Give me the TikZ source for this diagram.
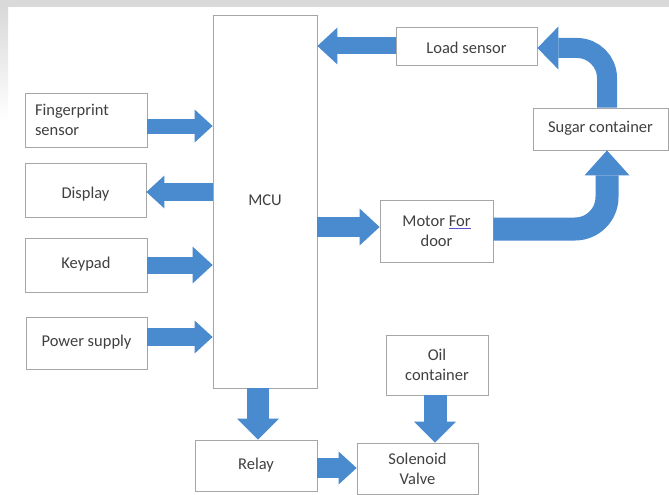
\documentclass[tikz,border=0pt]{standalone}
\usepackage{fontspec}
\setmainfont{Carlito}
\usetikzlibrary{arrows.meta}
\definecolor{arrowblue}{HTML}{4A8ACF}
\definecolor{boxline}{HTML}{A6A6A6}
\definecolor{txt}{HTML}{404040}
\definecolor{bandgray}{HTML}{D9D9D9}
\definecolor{ulink}{HTML}{5A4FCF}
\begin{document}
\begin{tikzpicture}[x=1pt,y=-1pt,
  boxbase/.style={draw=boxline, line width=0.8pt, fill=white, text=txt,
    font=\fontsize{16.5}{20}\selectfont, inner sep=0pt, align=center},
  box/.style={boxbase, text height=11pt, text depth=4pt},
  box2/.style={boxbase},
  barrow/.style={draw=arrowblue, line width=#1},
  tipA/.style={-{Triangle[length=18pt,width=33pt,line width=0pt]}},
  tipB/.style={-{Triangle[length=20pt,width=37pt,line width=0pt]}},
  tipC/.style={-{Triangle[length=21pt,width=42pt,line width=0pt]}}
]
\useasboundingbox (0,0) rectangle (669,495);
\fill[white] (0,0) rectangle (669,495);
\fill[bandgray] (0,0) rectangle (669,7);
\shade[top color=bandgray, bottom color=white] (0,7) rectangle (8,120);

% boxes
\node[box, minimum width=104pt, minimum height=373pt] (mcu) at (265,201.5) {MCU};
\node[box2, minimum width=122pt, minimum height=54pt, align=left, text width=102pt] (fp) at (86,120) {Fingerprint\\sensor};
\node[box, minimum width=121pt, minimum height=54pt] (disp) at (85.5,190) {\raisebox{-5pt}{Display}};
\node[box, minimum width=122pt, minimum height=54pt] (key) at (86,265) {Keypad};
\node[box, minimum width=121pt, minimum height=52pt] (pow) at (86.5,343) {Power supply};
\node[box, minimum width=122pt, minimum height=51pt] (relay) at (256,465.5) {Relay};
\node[box2, minimum width=121pt, minimum height=51pt] (sol) at (417.5,468.5) {Solenoid\\Valve};
\node[box2, minimum width=102pt, minimum height=60pt] (oil) at (437,365) {Oil\\container};
\node[box, minimum width=141pt, minimum height=38pt] (load) at (466.5,46) {\raisebox{-4pt}{Load sensor}};
\node[box, minimum width=135pt, minimum height=42pt] (sugar) at (600.5,129) {Sugar container};
\node[box2, minimum width=113pt, minimum height=62pt] (motor) at (436.5,231) {Motor {\color{ulink}\underline{\color{txt}For}}\\door};

% straight arrows
\draw[barrow=15pt, tipA] ([yshift=-6pt]fp.east) -- ([yshift=-6pt]fp.east -| mcu.west);
\draw[barrow=18pt, tipA] ([yshift=-2pt]disp.east -| mcu.west) -- ([yshift=-2pt]disp.east);
\draw[barrow=17pt, tipB] (key.east) -- (key.east -| mcu.west);
\draw[barrow=18pt, tipA] ([yshift=6pt]pow.east) -- ([yshift=6pt]pow.east -| mcu.west);
\draw[barrow=17pt, tipB] (load.west) -- (load.west -| mcu.east);
\draw[barrow=20pt, tipB] ([yshift=4pt]motor.west -| mcu.east) -- ([yshift=4pt]motor.west);
\draw[barrow=22pt, tipC] ([xshift=2pt]relay.north |- mcu.south) -- ([xshift=2pt]relay.north);
\draw[barrow=20pt, tipA] ([yshift=-2.5pt]relay.east) -- ([yshift=-2.5pt]relay.east -| sol.west);
\draw[barrow=23pt, tipC] ([xshift=-2pt]oil.south) -- ([xshift=-2pt]oil.south |- sol.north);

% curved arrows
\draw[barrow=23pt, rounded corners=32pt, -{Triangle[length=25pt,width=45pt,line width=0pt]}]
  ([yshift=2pt]motor.east) -| ([xshift=6.5pt]sugar.south);
\draw[barrow=20pt, rounded corners=30pt, -{Triangle[length=21pt,width=43pt,line width=0pt]}]
  ([xshift=6.5pt]sugar.north) |- ([yshift=-2pt]load.east);
\end{tikzpicture}
\end{document}
